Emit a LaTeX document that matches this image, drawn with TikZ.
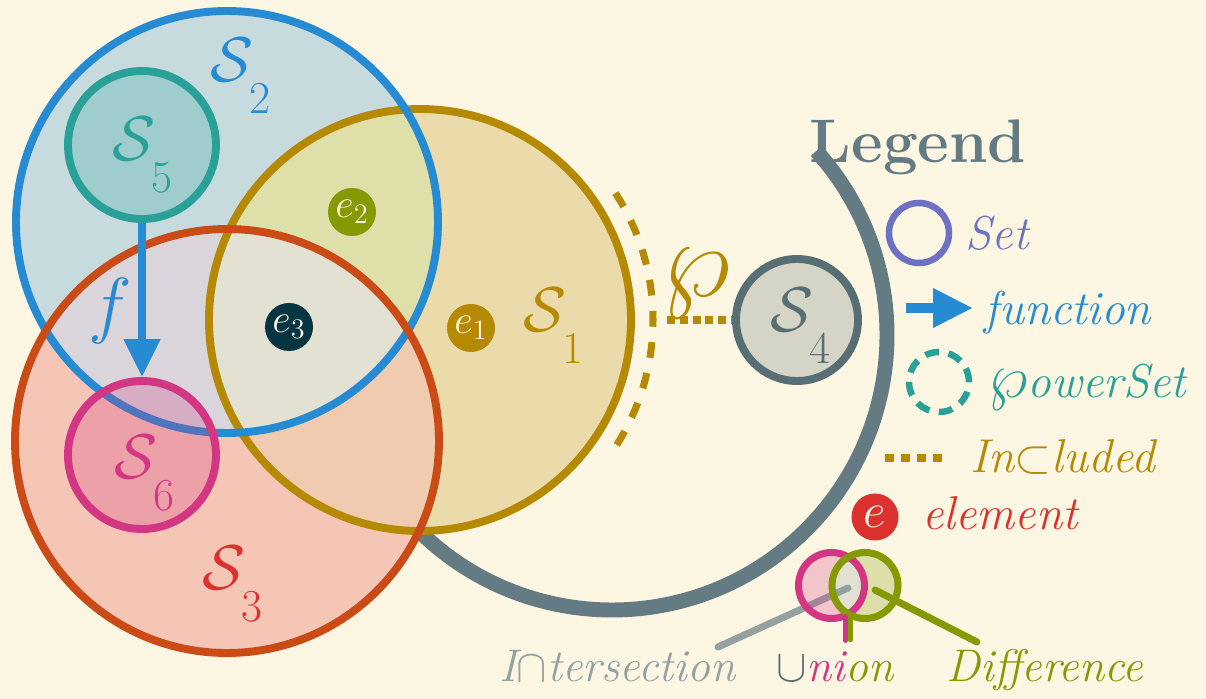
\RequirePackage{fix-cm}
\documentclass[tikz,border=0pt]{standalone}
\usepackage{fontspec}
\usepackage{xcolor}
\usepackage{tikz}
\usetikzlibrary{arrows.meta, calc}
\definecolor{paper}{HTML}{FDF6E3}
\definecolor{sbase02}{HTML}{073642}
\definecolor{sbase01}{HTML}{586E75}
\definecolor{sbase00}{HTML}{657B83}
\definecolor{sbase1}{HTML}{93A1A1}
\definecolor{syellow}{HTML}{B58900}
\definecolor{sorange}{HTML}{CB4B16}
\definecolor{sred}{HTML}{DC322F}
\definecolor{smagenta}{HTML}{D33682}
\definecolor{sviolet}{HTML}{6C71C4}
\definecolor{sblue}{HTML}{268BD2}
\definecolor{scyan}{HTML}{2AA198}
\definecolor{sgreen}{HTML}{859900}

% set name with a low subscript
\newcommand{\setname}[1]{$\mathcal{S}_{\lower13pt\hbox{\fontsize{26}{28}\selectfont#1}}$}

\tikzset{
  setring/.style={circle, draw=#1, line width=4.5pt, inner sep=0pt},
  elem/.style={circle, fill=#1, text=paper, minimum size=0.96cm, inner sep=0pt,
               font=\fontsize{23}{25}\selectfont},
  setlabel/.style={text=#1, font=\fontsize{36}{40}\selectfont},
  legtext/.style={text=#1, anchor=base, font=\fontsize{27}{30}\selectfont\itshape},
  optext/.style={text=#1, anchor=base, font=\fontsize{26}{28}\selectfont\itshape},
  maptip/.style={-{Triangle[length=0.76cm, width=0.7cm]}},
  keyline/.style={line width=4pt, line cap=round},
}

\begin{document}
\begin{tikzpicture}

  \fill[paper] (0,0) rectangle (24.12,-13.98);
  \useasboundingbox (0,0) rectangle (24.12,-13.98);

  % the legend arc runs behind the sets
  \draw[sbase00, line width=8.5pt] (12.24,-6.70) ++(42:5.5) arc[start angle=42, end angle=-136, radius=5.5];
  \draw[syellow, line width=4pt, dash pattern=on 9pt off 8.8pt] (8.40,-6.40) ++(33:4.66) arc[start angle=33, end angle=-33, radius=4.66];

  \coordinate (c1) at (8.40,-6.40);
  \coordinate (c2) at (4.54,-4.44);
  \coordinate (c3) at (4.54,-8.82);

  % regions of the three sets
  \fill[syellow!25!paper] (c1) circle (4.22);
  \fill[sblue!25!paper] (c2) circle (4.22);
  \fill[sred!25!paper] (c3) circle (4.24);
  \begin{scope}
    \clip (c2) circle (4.22);
    \fill[sviolet!25!paper] (c3) circle (4.24);
  \end{scope}
  \begin{scope}
    \clip (c1) circle (4.22);
    \fill[sgreen!25!paper] (c2) circle (4.22);
    \fill[sorange!25!paper] (c3) circle (4.24);
    \clip (c2) circle (4.22);
    \fill[sbase1!25!paper] (c3) circle (4.24);
  \end{scope}

  \node[setring=syellow, minimum size=8.44cm] (S1) at (c1) {};
  \node[setring=sblue, minimum size=8.44cm] (S2) at (c2) {};
  \node[setring=sorange, minimum size=8.48cm] (S3) at (c3) {};

  \node[setring=scyan, fill=scyan, fill opacity=.25, minimum size=2.96cm] (S5) at (2.84,-2.90) {};
  \node[setring=smagenta, fill=smagenta, fill opacity=.25, minimum size=2.96cm] (S6) at (2.84,-9.10) {};
  \draw[sblue, line width=4.5pt, maptip] (S5) -- (S6);

  \node[setring=sbase01, fill=sbase01!25!paper, minimum size=2.44cm] (S4) at (15.94,-6.40) {};
  \coordinate (pw) at ($(c1)+(4.66,0)$);
  \draw[syellow, line width=4pt, dash pattern=on 4.5pt off 2.8pt, shorten <=0.28cm] (pw) -- (S4);

  \node[setlabel=syellow] (S1-lbl) at (11.08,-6.52) {\setname{1}};
  \node[setlabel=sblue] (S2-lbl) at (4.82,-1.52) {\setname{2}};
  \node[setlabel=sred] (S3-lbl) at (4.66,-11.68) {\setname{3}};
  \node[setlabel=sbase01] (S4-lbl) at (16.02,-6.52) {\setname{4}};
  \node[setlabel=scyan] (S5-lbl) at (2.86,-3.10) {\setname{5}};
  \node[setlabel=smagenta] (S6-lbl) at (2.90,-9.46) {\setname{6}};
  \node[text=sblue, font=\fontsize{42}{44}\selectfont] (f-lbl) at (2.20,-6.22) {$f$};
  \node[text=syellow, font=\fontsize{62}{64}\selectfont] (wp-lbl) at (13.92,-5.68) {$\wp$};

  \node[elem=syellow] (e1) at (9.42,-6.56) {$e_1$};
  \node[elem=sgreen] (e2) at (7.04,-4.24) {$e_2$};
  \node[elem=sbase02] (e3) at (5.78,-6.54) {$e_3$};

  % legend
  \node[text=sbase00, anchor=base, font=\fontsize{35}{38}\selectfont\bfseries] (legend) at (18.36,-3.26) {Legend};

  \node[setring=sviolet, line width=3.7pt, minimum size=1.2cm] (key-set) at (18.38,-4.66) {};
  \node[legtext=sviolet] (key-set-lbl) at (19.94,-5.00) {Set};

  \coordinate (fun-a) at (18.12,-6.16);
  \coordinate (fun-b) at (19.46,-6.16);
  \draw[sblue, line width=5.5pt, -{Triangle[length=0.8cm, width=0.74cm]}] (fun-a) -- (fun-b);
  \node[legtext=sblue] (key-fun-lbl) at (21.36,-6.50) {function};

  \node[setring=scyan, line width=3.7pt, dash pattern=on 0.28cm off 0.19cm, minimum size=1.2cm] (key-pow) at (18.78,-7.64) {};
  \node[legtext=scyan] (key-pow-lbl) at (21.74,-7.96) {{\fontsize{36}{38}\selectfont$\wp$}owerSet};

  \coordinate (inc-a) at (17.70,-9.16);
  \coordinate (inc-b) at (18.86,-9.16);
  \draw[syellow, line width=4.5pt, dash pattern=on 0.18cm off 0.14cm] (inc-a) -- (inc-b);
  \node[legtext=syellow] (key-inc-lbl) at (21.26,-9.46) {In$\subset$luded};

  \node[elem=sred, minimum size=0.94cm, font=\fontsize{28}{30}\selectfont] (key-el) at (17.50,-10.34) {$e$};
  \node[legtext=sred] (key-el-lbl) at (20.00,-10.60) {element};

  % small venn for the operations
  \coordinate (u) at (16.63,-11.71);
  \coordinate (d) at (17.30,-11.71);
  \coordinate (int-a) at (14.36,-12.94);
  \coordinate (int-b) at (16.96,-11.76);
  \draw[sbase1, keyline] (int-a) -- (int-b);

  \begin{scope}
    \clip (u) circle (0.66);
    \fill[smagenta, fill opacity=.25, even odd rule] (u) circle (0.66) (d) circle (0.66);
  \end{scope}
  \begin{scope}
    \clip (d) circle (0.66);
    \fill[sgreen, fill opacity=.25, even odd rule] (u) circle (0.66) (d) circle (0.66);
  \end{scope}
  \begin{scope}
    \clip (u) circle (0.66);
    \fill[sbase1, fill opacity=.25] (d) circle (0.66);
  \end{scope}
  \node[setring=smagenta, line width=4pt, minimum size=1.32cm] (uni) at (u) {};
  \node[setring=sgreen, line width=4pt, minimum size=1.32cm] (dif) at (d) {};

  \coordinate (un-a) at (16.91,-12.34);
  \coordinate (un-b) at (16.91,-12.80);
  \coordinate (un-c) at (17.01,-12.34);
  \coordinate (un-d) at (17.01,-12.80);
  \draw[smagenta, line width=3.4pt, line cap=round] (un-a) -- (un-b);
  \draw[sgreen, line width=2.6pt, line cap=round] (un-c) -- (un-d);

  \coordinate (dif-a) at (17.50,-11.80);
  \coordinate (dif-b) at (19.54,-12.84);
  \draw[sgreen, keyline] (dif-a) -- (dif-b);

  \node[optext=sbase1] (int-lbl) at (12.35,-13.64) {I$\cap$tersection};
  \node[optext=sgreen] (uni-lbl) at (16.70,-13.64) {\textcolor{sbase01}{$\cup$}\textcolor{smagenta}{ni}on};
  \node[optext=sgreen] (dif-lbl) at (20.90,-13.64) {Difference};

\end{tikzpicture}
\end{document}
